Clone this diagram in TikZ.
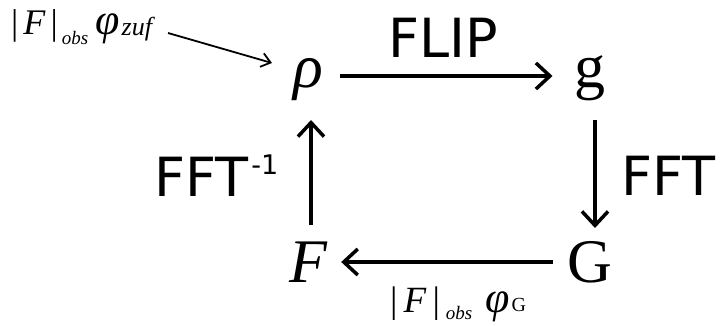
\documentclass[tikz,border=0pt]{standalone}
\usepackage{fontspec}
\setmainfont{Liberation Serif}
\newfontfamily\dejasans{DejaVu Sans}
\usetikzlibrary{arrows.meta}
\newcommand{\fsz}[1]{\fontsize{#1}{#1}\selectfont}
\begin{document}
\begin{tikzpicture}[x=1pt,y=-1pt,
  big/.style={inner sep=0pt, outer sep=0pt, font=\fsz{62}},
  toprow/.style={big, text height=30pt, text depth=6pt},
  botrow/.style={big, text height=46pt, text depth=4pt},
  lab/.style={font=\dejasans\fsz{54}, inner sep=0pt, anchor=base},
  small/.style={font=\fsz{36}, inner sep=0pt, anchor=base west},
  arr/.style={line width=3.5pt, -{Straight Barb[length=14pt,width=26pt,line width=3.5pt]}},
  thinarr/.style={line width=1.8pt, -{Straight Barb[length=9pt,width=14pt,line width=1.8pt]}}
]
\useasboundingbox (0,0) rectangle (721,326);
\node[toprow] (rho) at (308,76) {\textit{ρ}};
\node[toprow] (g) at (590,76) {g};
\node[botrow] (F) at (309,262) {\textit{F}};
\node[botrow] (G) at (590,262) {G};
\node[lab] (flip) at (443,58) {FLIP};
\node[lab, anchor=base west] (fft) at (621,196) {FFT};
\node[lab, anchor=base west] (ifft) at (154,197) {FFT\hspace{3pt}\raisebox{22pt}{\fsz{27}-1}};
\node[small] (lzuf) at (11,35) {|\hspace{5pt}\textit{F}\hspace{5pt}|\hspace{4pt}\raisebox{-10pt}{\fsz{19}\textit{obs}}\hspace{7pt}{\fsz{44}\textit{φ}}\hspace{2pt}\raisebox{-1pt}{\fsz{26}\textit{zuf}}};
\coordinate (zufstart) at (168,33);
\node[small, font=\fsz{37}] (lG) at (390,312) {|\hspace{6pt}\textit{F}\hspace{6pt}|\hspace{6pt}\raisebox{-8pt}{\fsz{19}\textit{obs}}\hspace{13pt}{\fsz{44}\textit{φ}}\hspace{2pt}\raisebox{1pt}{\fsz{20}G}};
\draw[arr, shorten <=17pt, shorten >=22pt] (rho) -- (g);
\draw[arr, shorten <=26pt, shorten >=9pt] ([xshift=5pt]g.south) -- ([xshift=5pt]G.north);
\draw[arr, shorten <=15pt, shorten >=13pt] (G) -- (F);
\draw[arr, shorten <=12pt, shorten >=26pt] ([xshift=2pt]F.north) -- ([xshift=3pt]rho.south);
\draw[thinarr] (zufstart) -- ([xshift=-36pt,yshift=13pt]rho.center);
\end{tikzpicture}
\end{document}
